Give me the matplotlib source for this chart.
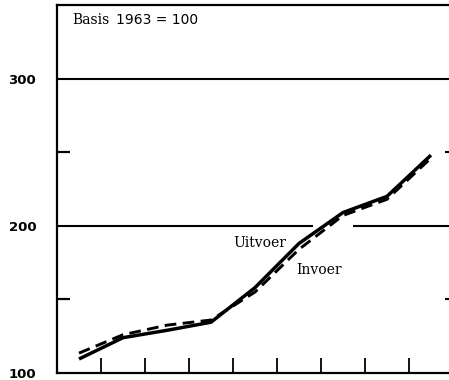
import numpy as np
import matplotlib
matplotlib.use('Agg')
import matplotlib.pyplot as plt

# Index values, basis 1963 = 100
periods = np.arange(9) + 0.5
uitvoer = [109.5, 124, 129, 134.5, 158, 188, 209, 220, 248]
invoer = [113.5, 126, 132.5, 136, 155, 184, 207, 218, 246]

fig = plt.figure(figsize=(4.49, 3.80), dpi=100)
ax = fig.add_axes([57/449, 7/380, 392/449, 368/380])

ax.plot(periods, uitvoer, color='black', lw=2.5, solid_capstyle='butt')
ax.plot(periods, invoer, color='black', lw=2.1, ls=(0, (4, 2.2)))

xmax = 8.91
ax.set_xlim(0, xmax)
ax.set_ylim(100, 350)

# horizontal reference lines, the 200 line broken where the curves cross
ax.hlines(300, 0, xmax, color='black', lw=1.5)
ax.hlines(200, 0, 5.82, color='black', lw=1.5)
ax.hlines(200, 6.73, xmax, color='black', lw=1.5)
# short marks on the right edge
ax.hlines([150, 250], xmax - 0.08, xmax, color='black', lw=1.5)

ax.spines['right'].set_visible(False)
for side in ['left', 'bottom', 'top']:
    ax.spines[side].set_linewidth(1.6)

ax.set_yticks([100, 200, 300])
ax.set_yticklabels(['100', '200', '300'], fontsize=9.5, fontweight='bold',
                   family='DejaVu Sans')
ax.set_yticks([150, 250], minor=True)
ax.tick_params(axis='y', which='major', length=0, pad=15)
ax.tick_params(axis='y', which='minor', direction='in', length=9, width=1.6,
               labelleft=False)
ax.set_xticks(np.arange(1, 9))
ax.tick_params(axis='x', which='major', direction='in', length=11, width=1.3,
               labelbottom=False)

ax.text(0.35, 340, 'Basis', family='DejaVu Serif', fontsize=10,
        va='center', ha='left')
ax.text(1.33, 340, '1963 = 100', family='DejaVu Sans', fontsize=10,
        va='center', ha='left')
ax.text(4.0, 188, 'Uitvoer', family='DejaVu Serif', fontsize=10, va='center')
ax.text(5.45, 170, 'Invoer', family='DejaVu Serif', fontsize=10, va='center')

fig.savefig('out.png', dpi=100)
